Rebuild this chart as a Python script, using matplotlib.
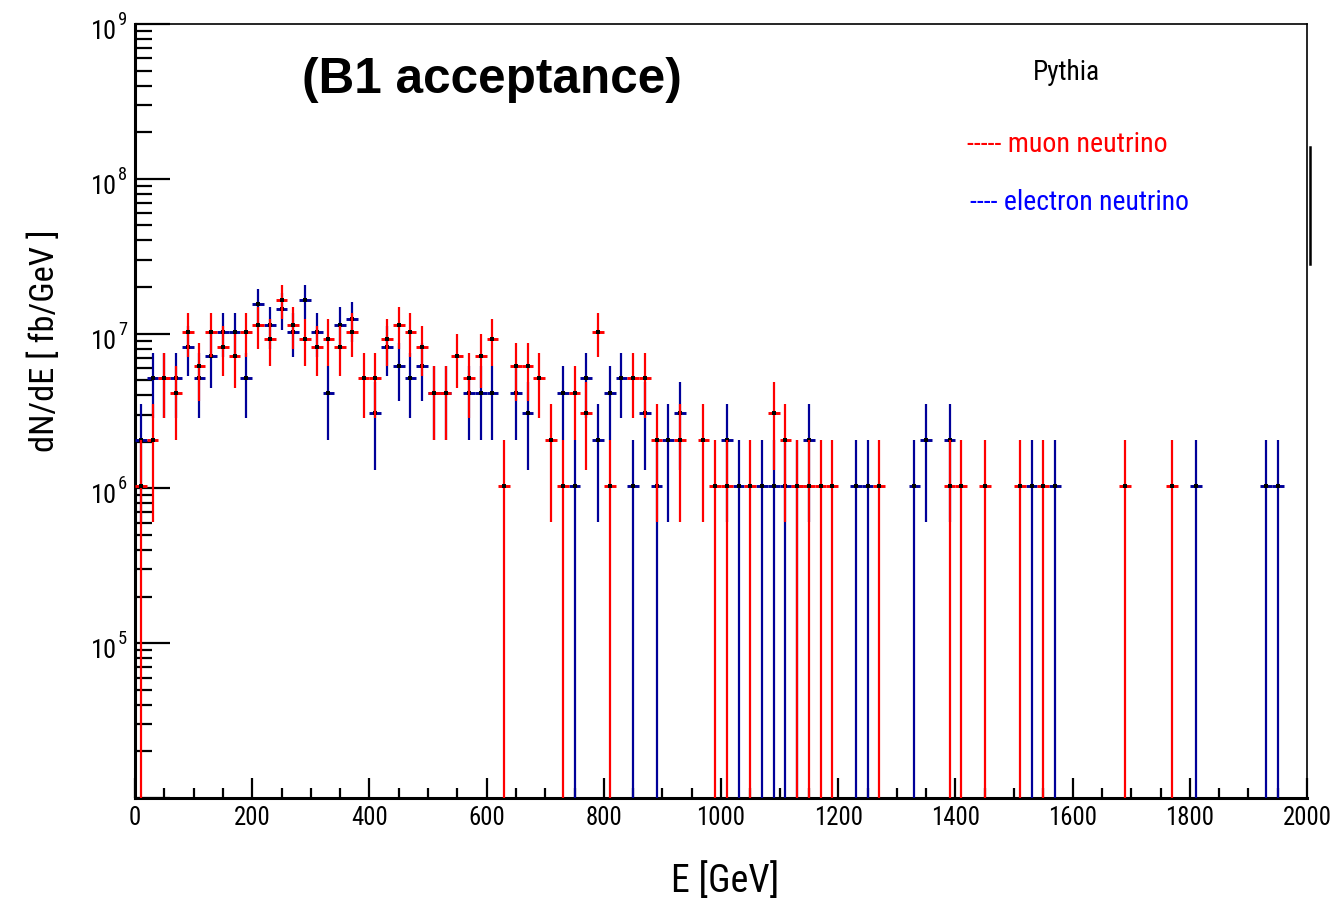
import os
import numpy as np
import matplotlib
matplotlib.use("Agg")
import matplotlib.pyplot as plt
from matplotlib import font_manager
from matplotlib.font_manager import FontProperties
from matplotlib.ticker import FixedLocator, NullFormatter, LogLocator
import matplotlib.transforms as mtransforms

# ---------------- data (counts per 20 GeV bin, 0..2000 GeV) ----------------
bin_edges = np.arange(0, 2001, 20)
muon_counts = [
    1, 2, 5, 4, 10, 6, 10, 8, 7, 10,       # 0-200
    11, 9, 16, 11, 9, 8, 9, 8, 10, 5,      # 200-400
    5, 9, 11, 10, 8, 4, 4, 7, 5, 7,        # 400-600
    9, 1, 6, 6, 5, 2, 1, 4, 3, 10,         # 600-800
    1, 0, 5, 5, 2, 0, 2, 0, 2, 1,          # 800-1000
    1, 0, 1, 0, 3, 2, 1, 1, 1, 1,          # 1000-1200
    0, 0, 0, 1, 0, 0, 0, 0, 0, 1,          # 1200-1400
    1, 0, 1, 0, 0, 1, 0, 1, 0, 0,          # 1400-1600
    0, 0, 0, 0, 1, 0, 0, 0, 1, 0,          # 1600-1800
    0, 0, 0, 0, 0, 0, 0, 0, 0, 0,          # 1800-2000
]
electron_counts = [
    2, 5, 5, 5, 8, 5, 7, 10, 10, 5,        # 0-200
    15, 11, 14, 10, 16, 10, 4, 11, 12, 0,  # 200-400
    3, 8, 6, 5, 6, 4, 4, 0, 4, 4,          # 400-600
    4, 0, 4, 3, 0, 0, 4, 1, 5, 2,          # 600-800
    4, 5, 1, 3, 1, 2, 3, 0, 0, 0,          # 800-1000
    2, 1, 0, 1, 1, 1, 1, 2, 0, 0,          # 1000-1200
    0, 1, 1, 0, 0, 0, 1, 2, 0, 2,          # 1200-1400
    0, 0, 0, 0, 0, 0, 1, 0, 1, 0,          # 1400-1600
    0, 0, 0, 0, 0, 0, 0, 0, 0, 0,          # 1600-1800
    1, 0, 0, 0, 0, 0, 1, 1, 0, 0,          # 1800-2000
]
event_weight = 1.03e6   # fb/GeV per entry
x_ticks = [0, 200, 400, 600, 800, 1000, 1200, 1400, 1600, 1800, 2000]
y_decades = [5, 6, 7, 8, 9]

# ---------------- fonts ----------------
def find_condensed():
    files = [f.fname for f in font_manager.fontManager.ttflist]
    prefs = ["liberationsansnarrow-regular", "robotocondensed-regular", "robotocondensed[",
             "opensans_condensed-regular", "opensanscondensed-regular", "dejavusanscondensed.ttf",
             "notosans-condensed.ttf", "notosanscondensed-regular"]
    for p in prefs:
        for fn in files:
            if p in os.path.basename(fn).lower():
                return fn
    bad = ["bold", "italic", "oblique", "light", "semi", "extra", "thin", "medium", "black", "mono", "serif"]
    for fn in files:
        b = os.path.basename(fn).lower()
        if ("narrow" in b or "condensed" in b) and not any(k in b for k in bad):
            return fn
    return None

cf = find_condensed()
NARROW = FontProperties(fname=cf) if cf else FontProperties(family="Liberation Sans")
BOLD = FontProperties(family="Liberation Sans", weight="bold")

W, H = 1335, 908
fig = plt.figure(figsize=(W / 100, H / 100), dpi=100)
L, R, T, B = 135, 1307, 24, 798
ax = fig.add_axes([L / W, 1 - B / H, (R - L) / W, (B - T) / H])

RED = "#ff0000"
BLUE = "#000099"

def draw_hist(counts, color, z):
    counts = np.asarray(counts, float)
    centers = 0.5 * (bin_edges[:-1] + bin_edges[1:])
    m = counts > 0
    c = centers[m]
    v = counts[m] * event_weight
    e = np.sqrt(counts[m]) * event_weight
    lo = np.maximum(v - e, 1e3)
    ax.vlines(c, lo, v + e, colors=color, lw=1.6, zorder=z)
    ax.hlines(v, bin_edges[:-1][m], bin_edges[1:][m], colors=color, lw=2.1, zorder=z)
    ax.plot(c, v, ls="none", marker="s", ms=2.2, mew=0, color="black", zorder=z + 0.5)

draw_hist(electron_counts, BLUE, 3)
draw_hist(muon_counts, RED, 4)

ax.set_yscale("log")
ax.set_xlim(0, 2000)
ax.set_ylim(1e4, 1e9)

ax.xaxis.set_major_locator(FixedLocator(x_ticks))
ax.xaxis.set_minor_locator(FixedLocator(np.arange(0, 2001, 50)))
ax.yaxis.set_major_locator(LogLocator(base=10, numticks=12))
ax.yaxis.set_minor_locator(LogLocator(base=10, subs=np.arange(2, 10), numticks=12))
ax.yaxis.set_major_formatter(NullFormatter())
ax.yaxis.set_minor_formatter(NullFormatter())
ax.tick_params(axis="both", which="both", direction="in", top=False, right=False, width=1.6, color="black")
ax.tick_params(axis="x", which="major", length=14.5, pad=6)
ax.tick_params(axis="x", which="minor", length=7.2)
ax.tick_params(axis="y", which="major", length=25)
ax.tick_params(axis="y", which="minor", length=12.5)
ax.set_xticklabels([str(t) for t in x_ticks], fontproperties=NARROW)

for s in ["left", "bottom"]:
    ax.spines[s].set_linewidth(2.2)
for s in ["top", "right"]:
    ax.spines[s].set_linewidth(1.2)

fig.canvas.draw()
renderer = fig.canvas.get_renderer()

def fit(t, target, vertical=False, base=20):
    t.set_fontsize(base)
    bb = t.get_window_extent(renderer)
    size = bb.height if vertical else bb.width
    t.set_fontsize(base * target / size)
    return t.get_fontsize()

# x tick label size from reference width of "1000"
probe = fig.text(0, 0, "1000", fontproperties=NARROW)
xs = fit(probe, 49)
probe.remove()
for lab in ax.get_xticklabels():
    lab.set_fontsize(xs)

# y tick labels: "10" with raised exponent
ytrans = mtransforms.blended_transform_factory(fig.transFigure, ax.transData)
probe = fig.text(0, 0, "10", fontproperties=NARROW)
ys = fit(probe, 26)
probe.remove()
off = mtransforms.offset_copy
for d in y_decades:
    val = 10.0 ** d
    fig.text(117 / W, val, "10", fontproperties=NARROW, fontsize=ys, ha="right", va="center",
             transform=off(ytrans, fig=fig, x=0, y=-8, units="dots"))
    fig.text(118 / W, val, str(d), fontproperties=NARROW, fontsize=ys * 0.7, ha="left",
             va="center", transform=off(ytrans, fig=fig, x=0, y=4, units="dots"))

# axis titles
t = fig.text(725 / W, 1 - 881 / H, "E [GeV]", fontproperties=NARROW, ha="center", va="center")
fit(t, 108)
t = fig.text(45 / W, 1 - 341 / H, "dN/dE [ fb/GeV ]", fontproperties=NARROW,
             rotation=90, ha="center", va="center")
fit(t, 222, vertical=True)

# annotations
t = fig.text(492 / W, 1 - 80 / H, "(B1 acceptance)", fontproperties=BOLD, ha="center", va="center")
fit(t, 380)
t = fig.text(1066.5 / W, 1 - 73 / H, "Pythia", fontproperties=NARROW, ha="center", va="center")
fit(t, 67)
t = fig.text(967 / W, 1 - 145 / H, "----- muon neutrino", fontproperties=NARROW,
             color="#ff0000", ha="left", va="center")
fit(t, 200)
t = fig.text(970 / W, 1 - 202 / H, "---- electron neutrino", fontproperties=NARROW,
             color="#0000ff", ha="left", va="center")
fit(t, 218)

# legend box edge fragment
fig.add_artist(plt.Line2D([1309.5 / W, 1309.5 / W], [1 - 147 / H, 1 - 264 / H],
                          color="black", lw=1.8))

fig.savefig("out.png", dpi=100)
